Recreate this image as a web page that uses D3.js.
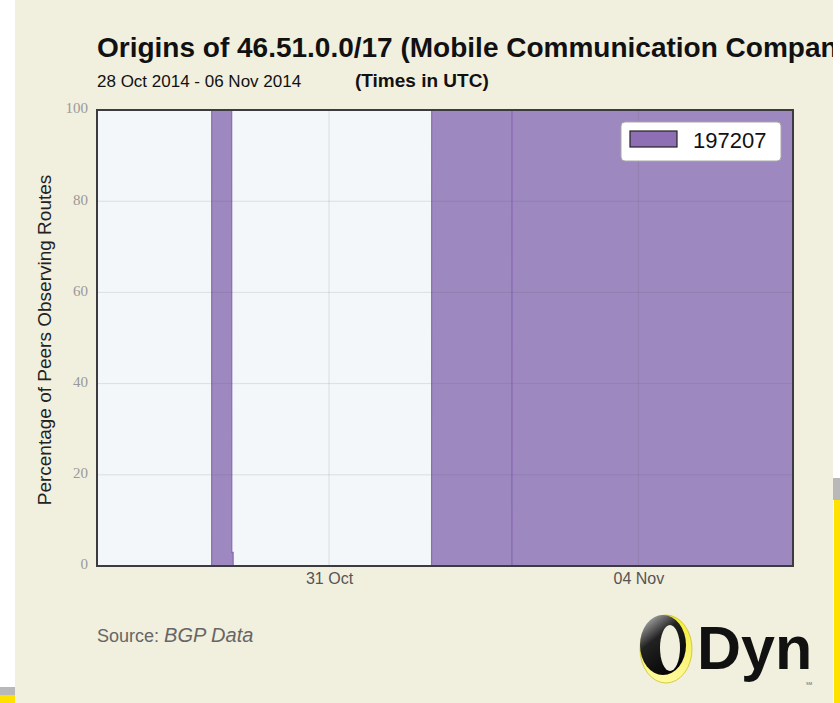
<!DOCTYPE html>
<html>
<head>
<meta charset="utf-8">
<script src="https://cdn.jsdelivr.net/npm/d3@7"></script>
<style>
  body { margin: 0; background: #fff; }
  svg { display: block; }
</style>
</head>
<body>
<svg id="chart" width="840" height="703"></svg>
<script>
// origin AS 197207 - percentage of peers seeing the route
let times = [
    "2014-10-28T00:00", "2014-10-29T11:35", "2014-10-29T11:36", "2014-10-29T17:48",
    "2014-10-29T17:50", "2014-10-29T18:15", "2014-10-29T18:16", "2014-11-01T07:50",
    "2014-11-01T07:52", "2014-11-02T08:45", "2014-11-02T08:46", "2014-11-02T08:47",
    "2014-11-06T00:00"
];
let values = [0, 0, 100, 100, 3, 3, 0, 0, 100, 100, 0, 100, 100];
let seriesName = "197207";
let yTicks = [0, 20, 40, 60, 80, 100];
let xTicks = ["2014-10-31T00:00", "2014-11-04T00:00"];

let parse = d3.utcParse("%Y-%m-%dT%H:%M");
let data = times.map(function (t, i) {
    return {t: parse(t), v: values[i]};
});

let svg = d3.select("#chart");
let W = 840, H = 703;
let plot = {left: 97, right: 793, top: 110, bottom: 566};
let sans = "'Liberation Sans', Arial, sans-serif";

let x = d3.scaleUtc()
    .domain([parse("2014-10-28T00:00"), parse("2014-11-06T00:00")])
    .range([plot.left, plot.right]);
let y = d3.scaleLinear().domain([0, 100]).range([plot.bottom, plot.top]);

// page decoration
svg.append("rect").attr("x", 0).attr("y", 0).attr("width", W).attr("height", H).attr("fill", "#fff");
svg.append("rect").attr("x", 0).attr("y", 687).attr("width", 15).attr("height", 8).attr("fill", "#b8b8b8");
svg.append("rect").attr("x", 0).attr("y", 695).attr("width", 15).attr("height", 8).attr("fill", "#ffe100");
svg.append("rect").attr("x", 833).attr("y", 478).attr("width", 7).attr("height", 22).attr("fill", "#b8b8b8");
svg.append("rect").attr("x", 834).attr("y", 500).attr("width", 6).attr("height", 203).attr("fill", "#ffe100");

svg.append("clipPath").attr("id", "panelClip")
    .append("rect").attr("x", 15).attr("y", 0).attr("width", 818).attr("height", H);
let panel = svg.append("g").attr("clip-path", "url(#panelClip)");
panel.append("rect").attr("x", 15).attr("y", 0).attr("width", 818).attr("height", H).attr("fill", "#f1efde");

// titles
panel.append("text")
    .attr("x", 97).attr("y", 57)
    .style("font-family", sans)
    .style("font-size", "28px").style("font-weight", "bold").style("fill", "#111")
    .text("Origins of 46.51.0.0/17 (Mobile Communication Company of Iran PLC)");
panel.append("text")
    .attr("x", 97).attr("y", 87)
    .style("font-family", sans)
    .style("font-size", "17px").style("fill", "#111")
    .text("28 Oct 2014 - 06 Nov 2014");
panel.append("text")
    .attr("x", 355).attr("y", 87)
    .style("font-family", sans)
    .style("font-size", "19px").style("font-weight", "bold").style("fill", "#111")
    .text("(Times in UTC)");

// plot background
panel.append("rect")
    .attr("x", plot.left).attr("y", plot.top)
    .attr("width", plot.right - plot.left).attr("height", plot.bottom - plot.top)
    .attr("fill", "#f3f7fa");

let area = d3.area()
    .x(function (d) { return x(d.t); })
    .y0(y(0))
    .y1(function (d) { return y(d.v); });

panel.append("path")
    .datum(data)
    .attr("d", area)
    .attr("fill", "#9e88c0")
    .attr("stroke", "rgba(130,100,175,0.9)")
    .attr("stroke-width", 1.2);

// grid on top of the area
let grid = panel.append("g");
grid.selectAll("line.h")
    .data(yTicks.slice(1, -1))
    .enter().append("line")
    .attr("x1", plot.left).attr("x2", plot.right)
    .attr("y1", function (d) { return y(d); })
    .attr("y2", function (d) { return y(d); })
    .attr("stroke", "rgba(90,90,90,0.15)")
    .attr("stroke-width", 1);
grid.selectAll("line.v")
    .data(xTicks.map(parse))
    .enter().append("line")
    .attr("x1", function (d) { return x(d); })
    .attr("x2", function (d) { return x(d); })
    .attr("y1", plot.top).attr("y2", plot.bottom)
    .attr("stroke", "rgba(90,90,90,0.15)")
    .attr("stroke-width", 1);

// frame
panel.append("rect")
    .attr("x", plot.left).attr("y", plot.top)
    .attr("width", plot.right - plot.left).attr("height", plot.bottom - plot.top)
    .attr("fill", "none").attr("stroke", "#3b3b40").attr("stroke-width", 2);

// y axis
let yAxis = panel.append("g")
    .attr("transform", "translate(" + (plot.left - 9) + ",-2)")
    .call(d3.axisLeft(y).tickValues(yTicks).tickSize(0).tickPadding(0));
yAxis.select(".domain").remove();
yAxis.selectAll("text")
    .style("font-family", "'Liberation Serif', 'DejaVu Serif', serif")
    .style("font-size", "15px").style("fill", "#999");

// x axis
let xAxis = panel.append("g")
    .attr("transform", "translate(0," + plot.bottom + ")")
    .call(d3.axisBottom(x).tickValues(xTicks.map(parse)).tickSize(0).tickPadding(7)
        .tickFormat(d3.utcFormat("%d %b")));
xAxis.select(".domain").remove();
xAxis.selectAll("text")
    .style("font-family", sans)
    .style("font-size", "16px").style("fill", "#555");

panel.append("text")
    .attr("transform", "translate(51,340) rotate(-90)")
    .attr("text-anchor", "middle")
    .style("font-family", sans)
    .style("font-size", "19px").style("fill", "#222")
    .text("Percentage of Peers Observing Routes");

// legend
let legend = panel.append("g").attr("transform", "translate(621,122)");
legend.append("rect")
    .attr("width", 160).attr("height", 39).attr("rx", 4)
    .attr("fill", "#fff").attr("stroke", "#a8a8a8").attr("stroke-width", 1);
legend.append("rect")
    .attr("x", 9).attr("y", 9).attr("width", 47).attr("height", 16)
    .attr("fill", "#8e6fb3").attr("stroke", "#222").attr("stroke-width", 1.2);
legend.append("text")
    .attr("x", 72).attr("y", 26)
    .style("font-family", sans)
    .style("font-size", "22px").style("fill", "#111")
    .text(seriesName);

// source
let src = panel.append("text")
    .attr("x", 97).attr("y", 642)
    .style("font-family", sans)
    .style("font-size", "18px").style("fill", "#666");
src.append("tspan").text("Source:  ");
src.append("tspan").style("font-style", "italic").style("font-size", "20px").text("BGP Data");

// Dyn logo
let defs = svg.append("defs");
let g1 = defs.append("linearGradient").attr("id", "ringDark")
    .attr("x1", "0.2").attr("y1", "0").attr("x2", "0.8").attr("y2", "1");
g1.append("stop").attr("offset", "0").attr("stop-color", "#b0b0b0");
g1.append("stop").attr("offset", "0.35").attr("stop-color", "#222");
g1.append("stop").attr("offset", "1").attr("stop-color", "#000");
let g2 = defs.append("linearGradient").attr("id", "ringYellow")
    .attr("x1", "0").attr("y1", "0").attr("x2", "0").attr("y2", "1");
g2.append("stop").attr("offset", "0").attr("stop-color", "#f4ec30");
g2.append("stop").attr("offset", "1").attr("stop-color", "#fffaa0");

let logo = panel.append("g").attr("transform", "translate(666,649)");
logo.append("ellipse").attr("rx", 26).attr("ry", 34).attr("fill", "url(#ringYellow)")
    .attr("stroke", "#b8b000").attr("stroke-width", 0.6);
logo.append("ellipse").attr("cx", -3).attr("cy", -4).attr("rx", 23).attr("ry", 30).attr("fill", "url(#ringDark)");
logo.append("ellipse").attr("cx", 4).attr("cy", -1).attr("rx", 10).attr("ry", 23).attr("fill", "#f1efde");
panel.append("text")
    .attr("x", 697).attr("y", 669)
    .style("font-family", sans)
    .style("font-size", "61px").style("font-weight", "bold").style("fill", "#111")
    .text("Dyn");
panel.append("text")
    .attr("x", 806).attr("y", 685)
    .style("font-family", sans)
    .style("font-size", "4px").style("fill", "#555")
    .text("SM");
</script>
</body>
</html>
